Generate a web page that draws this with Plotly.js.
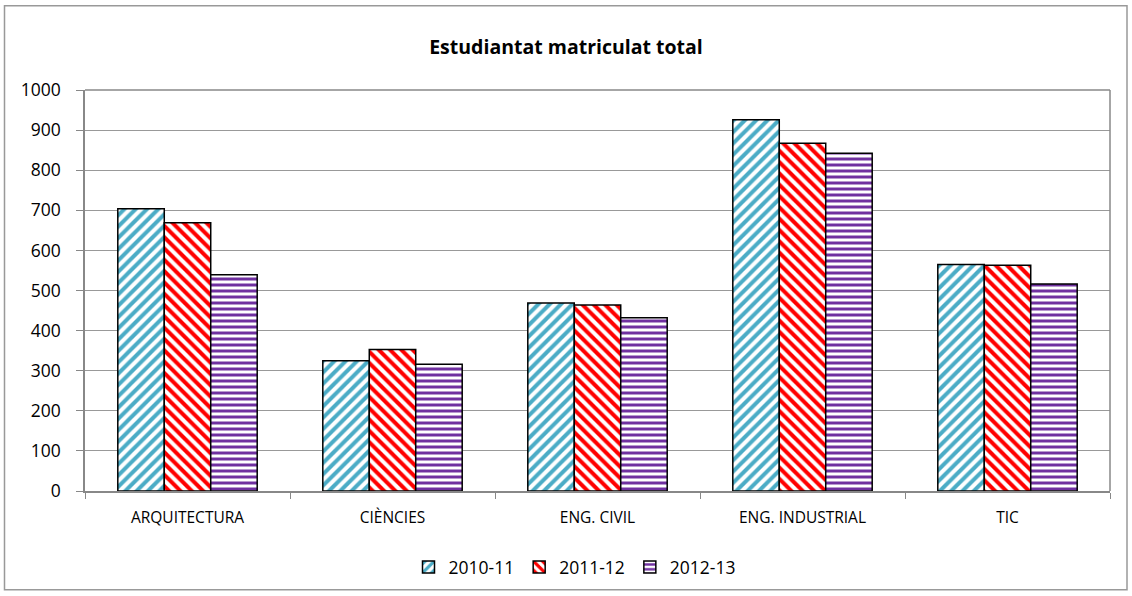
<!DOCTYPE html>
<html><head><meta charset="utf-8">
<script src="https://cdn.plot.ly/plotly-3.0.1.min.js"></script>
<style>html,body{margin:0;padding:0;background:#fff}#c{width:1132px;height:596px}</style>
</head><body><div id="c"></div>
<script>
const categories = ["ARQUITECTURA", "CIÈNCIES", "ENG. CIVIL", "ENG. INDUSTRIAL", "TIC"];
const seriesNames = ["2010-11", "2011-12", "2012-13"];
const v2010 = [704, 325, 469, 926, 565];
const v2011 = [669, 353, 464, 867, 563];
const v2012 = [539, 316, 432, 842, 516];
const yTicks = [0, 100, 200, 300, 400, 500, 600, 700, 800, 900, 1000];

const colors = ["#4BACC6", "#FF0000", "#7030A0"];
const shapes = ["/", "\\", "-"];
const psize = [8, 8, 6];
const vals = [v2010, v2011, v2012];
const data = vals.map((v, i) => ({
  type: "bar", x: categories, y: v, name: seriesNames[i],
  marker: {color: "#ffffff", line: {color: "#000", width: 1.5},
    pattern: {shape: shapes[i], fgcolor: colors[i], bgcolor: "#ffffff", size: psize[i], solidity: 0.5, fillmode: "replace"}}
}));
const L = 85, R = 1110, T = 90, B = 492;
const px = x => (x - L) / (R - L), py = y => (B - y) / (B - T);
const layout = {
  width: 1132, height: 596,
  margin: {l: L, r: 1132 - R, t: T, b: 596 - B},
  paper_bgcolor: "#fff", plot_bgcolor: "#fff",
  font: {family: "Open Sans, Noto Sans, sans-serif", size: 15, color: "#000"},
  title: {text: "<b>Estudiantat matriculat total</b>", x: 0.5, xanchor: "center", y: 1 - 47/596, yanchor: "middle",
    font: {size: 19.5, family: "Open Sans, sans-serif", color: "#000"}},
  barmode: "group", bargap: 0.32, bargroupgap: 0,
  xaxis: {showline: true, linecolor: "#888", linewidth: 1.5, ticks: "outside", tickson: "boundaries",
    ticklen: 6, tickcolor: "#888", tickfont: {size: 15.5}, mirror: false, ticklabelstandoff: 12},
  yaxis: {range: [0, 1000], tickvals: yTicks, ticktext: yTicks.map(String), showline: true, linecolor: "#888", linewidth: 1.5,
    ticks: "outside", ticklen: 7, tickcolor: "#888", gridcolor: "#999", gridwidth: 1.2, zeroline: false,
    tickfont: {size: 17.5}, ticklabelstandoff: 12},
  legend: {orientation: "h", x: px(575), xanchor: "center", y: py(567), yanchor: "middle", font: {size: 17.5},
    traceorder: "normal"},
  shapes: [
    {type: "rect", xref: "paper", yref: "paper", x0: px(4.5), x1: px(1127), y0: py(591), y1: py(5.5),
      line: {color: "#999", width: 1.5}, fillcolor: "rgba(0,0,0,0)", layer: "below"},
    {type: "line", xref: "paper", yref: "paper", x0: 0, x1: 1, y0: 1, y1: 1, line: {color: "#888", width: 1.5}},
    {type: "line", xref: "paper", yref: "paper", x0: 1, x1: 1, y0: 0, y1: 1, line: {color: "#888", width: 1.5}}
  ]
};
Plotly.newPlot("c", data, layout, {displayModeBar: false});
</script></body></html>
